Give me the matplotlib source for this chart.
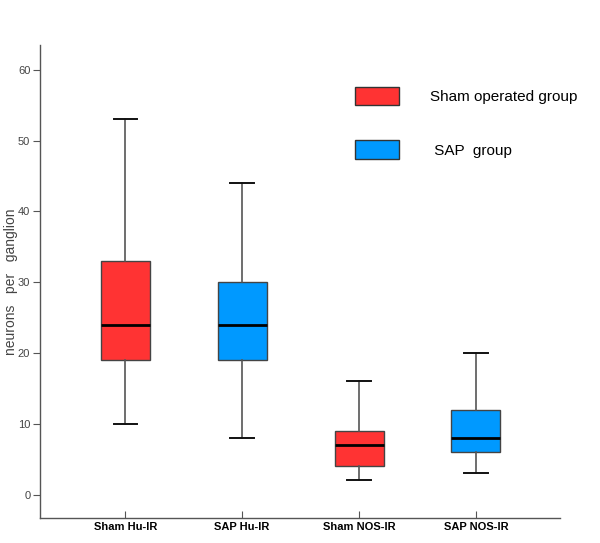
import matplotlib
matplotlib.use("Agg")
import matplotlib.pyplot as plt
from matplotlib.patches import Patch

plt.rcParams['font.family'] = ['Liberation Sans', 'DejaVu Sans']

# box plot summary values
groups = ['Sham Hu-IR', 'SAP Hu-IR', 'Sham NOS-IR', 'SAP NOS-IR']
whislo = [10, 8, 2, 3]
q1 = [19, 19, 4, 6]
med = [24, 24, 7, 8]
q3 = [33, 30, 9, 12]
whishi = [53, 44, 16, 20]
legend_labels = ['Sham operated group', ' SAP  group']

red = '#FF3333'
blue = '#0099FF'
box_colors = [red, blue, red, blue]

stats = []
for i in range(len(groups)):
    stats.append({'label': groups[i], 'whislo': whislo[i], 'q1': q1[i],
                  'med': med[i], 'q3': q3[i], 'whishi': whishi[i], 'fliers': []})

fig = plt.figure(figsize=(6, 5.43), dpi=100)
ax = fig.add_axes([0.0667, 0.046, 0.8667, 0.871])

bp = ax.bxp(stats, positions=[1, 2, 3, 4], widths=0.42, patch_artist=True,
            showfliers=False,
            boxprops=dict(edgecolor='#444444', linewidth=1.0),
            whiskerprops=dict(color='#555555', linewidth=1.2),
            capprops=dict(color='#111111', linewidth=1.4),
            medianprops=dict(color='black', linewidth=2.0))
for patch, c in zip(bp['boxes'], box_colors):
    patch.set_facecolor(c)
for cap in bp['caps']:
    x0, x1 = cap.get_xdata()
    mid = (x0 + x1) / 2
    cap.set_xdata([mid - 0.1, mid + 0.1])

ax.set_xlim(0.27, 4.72)
ax.set_ylim(-3.3, 63.5)
ax.set_yticks([0, 10, 20, 30, 40, 50, 60])
ax.set_xticks([1, 2, 3, 4])
ax.set_xticklabels(groups, fontweight='bold', fontsize=8)

for s in ['top', 'right']:
    ax.spines[s].set_visible(False)
for s in ['left', 'bottom']:
    ax.spines[s].set_color('#555555')
    ax.spines[s].set_linewidth(1.0)

ax.tick_params(axis='y', direction='out', length=5, color='#555555',
               labelsize=8, labelcolor='#444444', pad=2)
ax.tick_params(axis='x', direction='in', length=5, color='#555555', pad=3)

ax.set_ylabel('neurons   per   ganglion', fontsize=10, color='#444444')
ax.yaxis.set_label_coords(-0.042, 0.5)

handles = [Patch(facecolor=red, edgecolor='#333333'),
           Patch(facecolor=blue, edgecolor='#333333')]
ax.legend(handles, legend_labels, loc='upper left', bbox_to_anchor=(0.606, 0.912),
          frameon=False, fontsize=11, handlelength=2.9, handleheight=1.45,
          handletextpad=2.0, labelspacing=2.33, borderpad=0, borderaxespad=0)

fig.savefig('out.png', dpi=100)
